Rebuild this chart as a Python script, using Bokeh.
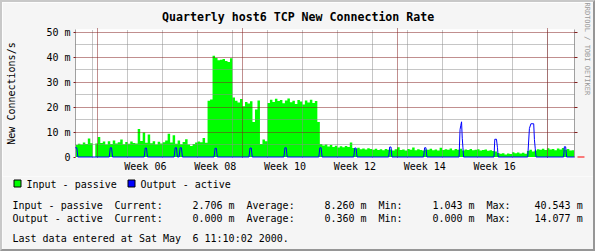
from datetime import datetime, timedelta
import numpy as np
from bokeh.plotting import figure
from bokeh.layouts import column
from bokeh.models import (Range1d, FixedTicker, LinearAxis, Grid, Title,
                          Arrow, NormalHead, ColumnDataSource)
from bokeh.core.properties import value
from bokeh.embed import file_html
from bokeh.resources import INLINE

# ---------------- data ----------------
TITLE = "Quarterly host6 TCP New Connection Rate"
Y_LABEL = "New Connections/s"
END = datetime(2000, 5, 6, 11, 10, 2)
SPAN_DAYS = 100
START = END - timedelta(days=SPAN_DAYS)
SAMPLE_DAYS = 0.5   # one sample every 12 hours

# Input - passive (milli connections / s), one value per 12 h
input_passive = [
    4.8, 5.3, 5.0, 5.8, 5.2, 7.4, 5.5, 0.0,
    5.4, 8.0, 5.6, 6.2, 5.0, 6.3, 5.2, 6.6, 5.4, 5.9, 7.0, 5.1, 6.0, 5.3, 6.2, 5.6, 5.4,
    11.2, 6.4, 9.8, 5.7, 9.0, 5.5, 6.3, 5.0, 6.1, 5.4, 5.9, 6.6, 9.3, 5.8, 8.7, 5.3, 6.6,
    5.1, 6.0, 7.1, 5.0, 4.4, 5.2, 5.8, 6.2, 5.9, 7.6, 5.7,
    22.5, 23.0, 40.5, 39.6, 38.7, 38.9, 39.2, 38.4, 38.0, 39.5,
    23.8, 22.5, 21.8, 23.2, 20.3, 22.0, 21.4, 22.3, 14.0, 19.0, 22.6, 5.2, 7.0, 6.3,
    21.6, 22.9, 22.0, 23.3, 22.4, 22.8, 21.5, 22.6, 23.4, 21.9, 22.5, 21.2, 22.8, 22.2,
    21.0, 22.6, 21.8, 22.9, 21.6, 22.4, 14.0,
    5.2, 4.6, 5.0, 4.2, 4.8, 4.0, 4.5, 3.8, 4.3, 3.9, 4.4, 4.0,
    5.8, 3.6, 3.3, 3.7, 3.1, 3.4, 3.0, 3.5, 3.2, 2.9, 3.3, 2.8,
    3.1, 2.7, 3.2, 2.9, 3.0, 2.6, 3.1, 3.9, 2.8, 3.0, 2.6, 3.2,
    2.9, 3.8, 2.7, 3.1, 2.8, 2.6, 3.0, 2.9, 3.3, 2.7, 3.0, 2.6,
    3.7, 2.8, 3.1, 2.9, 3.4, 2.7, 3.2, 2.9, 3.3, 2.6, 3.0, 2.8,
    3.2, 2.7, 2.9, 3.1, 2.6, 2.8, 3.0, 2.5, 2.7, 2.4, 2.2, 1.6,
    1.3, 1.5, 1.04, 1.4, 1.2, 1.9, 1.5, 1.8, 1.4, 1.7, 1.3, 2.4,
    2.9, 2.2, 2.6, 3.1, 2.9, 3.3, 2.8, 3.5, 3.0, 3.2, 2.7, 3.4,
    3.0, 3.6, 2.9, 3.2, 2.6, 2.7,
]

# Output - active: sample times (days since START) and values (milli / s)
output_days = [
    0.0, 0.3, 0.5,
    6.80, 7.00, 7.26, 7.46,
    13.80, 14.00, 14.26, 14.46,
    19.80, 20.00, 20.26, 20.46,
    20.80, 21.00, 21.26, 21.46,
    27.80, 28.00, 28.26, 28.46,
    34.80, 35.00, 35.26, 35.46,
    41.80, 42.00, 42.26, 42.46,
    48.80, 49.00, 49.26, 49.46,
    55.80, 56.00, 56.26, 56.46,
    62.80, 63.00, 63.26, 63.46,
    69.80, 70.00, 70.26, 70.46,
    76.90, 77.10, 77.26, 77.40, 77.54, 77.68, 77.80,
    83.90, 84.06, 84.40, 84.60, 84.74,
    90.66, 91.00, 91.30, 91.86, 92.00, 92.16, 92.34,
    97.86, 98.00, 98.26, 98.46,
    100.0,
]
output_active = [
    3.7, 3.7, 0.0,
    0.0, 3.7, 3.7, 0.0,
    0.0, 3.6, 3.6, 0.0,
    0.0, 3.7, 3.7, 0.0,
    0.0, 3.7, 3.7, 0.0,
    0.0, 3.5, 3.5, 0.0,
    0.0, 3.6, 3.6, 0.0,
    0.0, 3.7, 3.7, 0.0,
    0.0, 3.7, 3.7, 0.0,
    0.0, 3.6, 3.6, 0.0,
    0.0, 4.0, 4.0, 0.0,
    0.0, 3.7, 3.7, 0.0,
    0.0, 11.0, 12.7, 14.08, 7.5, 3.7, 0.0,
    0.0, 7.1, 7.1, 3.7, 0.0,
    0.0, 11.4, 13.3, 13.3, 7.0, 3.5, 0.0,
    0.0, 4.1, 4.1, 0.0,
    0.0,
]

y_major = [0, 10, 20, 30, 40, 50]
y_major_labels = ["0", "10 m", "20 m", "30 m", "40 m", "50 m"]
y_minor = [5, 15, 25, 35, 45]
week_label_numbers = [6, 8, 10, 12, 14, 16]
week_labels = ["Week 06", "Week 08", "Week 10", "Week 12", "Week 14", "Week 16"]

legend_names = ["Input - passive", "Output - active"]
legend_colors = ["#00ff00", "#0000ff"]
stat_current = ["2.706 m", "0.000 m"]
stat_average = ["8.260 m", "0.360 m"]
stat_min = ["1.043 m", "0.000 m"]
stat_max = ["40.543 m", "14.077 m"]
last_update = ["Last data entered at Sat May", "6 11:10:02 2000."]
watermark = "RRDTOOL / TOBI OETIKER"

# ---------------- time helpers ----------------
def day_of(dt):
    return (dt - START).total_seconds() / 86400.0

mondays = []
d = datetime(2000, 1, 24)
while d < END:
    if d > START:
        mondays.append(d)
    d += timedelta(days=7)
week_lines = [day_of(m) for m in mondays]
month_lines = [day_of(datetime(2000, m, 1)) for m in (2, 3, 4, 5)]
week_centers = [day_of(datetime.fromisocalendar(2000, wk, 1)) + 3.5
                for wk in week_label_numbers]

# ---------------- styling ----------------
W, H = 595, 251
BW = 2                      # 3D border width
IW = W - 2 * BW             # inner width 591
HA = 174                    # chart figure height (canvas rows 2..176)
HB = H - 2 * BW - HA        # text figure height (canvas rows 176..249)
FL, FR, FT, FB = 75, 575, 29, 157   # frame edges in canvas px
PX_PER_DAY = 5.0
PX_PER_M = 2.5
BACK = "#f5f5f5"
MGRID = "#821e1e"
GRID = "#8c8c8c"
AXIS = "#a0a0a0"
FONT = "DejaVu Sans Mono"
CHAR = 6.0

def no_frame_align(fig):
    if "frame_align" in fig.properties():
        fig.frame_align = False

# align month grid line to a pixel centre (canvas column 97)
x0 = month_lines[0] - (97.5 - FL) / PX_PER_DAY
y0 = -0.5 / PX_PER_M
p = figure(width=IW, height=HA, output_backend="svg", toolbar_location=None,
           x_range=Range1d(x0, x0 + (FR - FL) / PX_PER_DAY),
           y_range=Range1d(y0, y0 + (FB - FT) / PX_PER_M),
           min_border_left=FL - BW, min_border_right=(W - BW) - FR,
           min_border_top=FT - BW, min_border_bottom=(BW + HA) - FB,
           x_axis_type=None, y_axis_type=None)
no_frame_align(p)
p.background_fill_color = "white"
p.border_fill_color = BACK
p.outline_line_color = None
p.xgrid.visible = False
p.ygrid.visible = False

p.title.text = TITLE
p.title.text_font = FONT
p.title.text_font_style = "bold"
p.title.text_font_size = "11.6px"
p.title.text_color = "black"
p.title.align = "left"
p.title.offset = 161.5 - FL
p.title.standoff = 9

# data glyphs
x_edges = list(np.arange(len(input_passive) + 1) * SAMPLE_DAYS)
src = ColumnDataSource(dict(x=x_edges, y1=[0.0] * len(x_edges),
                            y2=input_passive + [input_passive[-1]]))
p.varea_step(x="x", y1="y1", y2="y2", step_mode="after", source=src,
             fill_color="#00ff00")

def add_grid(dim, ticks, color):
    p.add_layout(Grid(dimension=dim, ticker=FixedTicker(ticks=ticks),
                      grid_line_color=color, grid_line_dash="1 1",
                      grid_line_width=1, level="guide"))

add_grid(0, week_lines, GRID)
add_grid(1, y_minor, GRID)
add_grid(0, month_lines, MGRID)
add_grid(1, y_major[1:], MGRID)

out = p.line(output_days, output_active, line_color="#0000ff", line_width=1)
out.level = "annotation"

# axes
left = LinearAxis(ticker=FixedTicker(ticks=y_major),
                  major_label_overrides={t: l for t, l in zip(y_major, y_major_labels)},
                  axis_line_color=AXIS, major_tick_line_color=MGRID,
                  major_tick_out=2, major_tick_in=0, minor_tick_line_color=None,
                  major_label_standoff=3, major_label_text_font=FONT,
                  major_label_text_font_size="10px", major_label_text_color="black",
                  axis_label=Y_LABEL, axis_label_text_font=FONT,
                  axis_label_text_font_size="10px", axis_label_text_font_style="normal",
                  axis_label_standoff=26, axis_label_text_color="black")
p.add_layout(left, "left")

right = LinearAxis(ticker=FixedTicker(ticks=[], minor_ticks=y_major[1:]),
                   axis_line_color=AXIS, major_tick_line_color=None,
                   major_tick_out=0, major_tick_in=0,
                   minor_tick_line_color=MGRID, minor_tick_out=3, minor_tick_in=0,
                   major_label_standoff=0)
p.add_layout(right, "right")

p.add_layout(Title(text=watermark, align="left", offset=-27, standoff=6,
                   vertical_align="top",
                   text_font=FONT, text_font_size="7px", text_font_style="normal",
                   text_color="#999999"), "right")

# month ticks just above the frame (also keeps the title clear of the frame)
top_axis = LinearAxis(ticker=FixedTicker(ticks=[], minor_ticks=month_lines),
                      axis_line_color=None, major_tick_line_color=None,
                      major_tick_out=3, major_tick_in=0,
                      minor_tick_line_color=MGRID, minor_tick_out=1, minor_tick_in=0,
                      major_label_standoff=0)
p.add_layout(top_axis, "above")

bottom = LinearAxis(ticker=FixedTicker(ticks=week_centers),
                    major_label_overrides={c: l for c, l in zip(week_centers, week_labels)},
                    axis_line_color=None, major_tick_line_color=None,
                    major_tick_out=0, major_tick_in=0, minor_tick_line_color=None,
                    major_label_standoff=3, major_label_text_font=FONT,
                    major_label_text_font_size="10px", major_label_text_color="black")
p.add_layout(bottom, "below")

x_end = p.x_range.end
p.add_layout(Arrow(x_start=x_end, y_start=0, x_end=x_end + 10 / PX_PER_DAY, y_end=0,
                   line_color="#ff0000", line_width=1,
                   end=NormalHead(size=7, fill_color=BACK, line_color="#ff0000",
                                  line_width=1)))

# ---------------- legend / statistics figure ----------------
top_b = BW + HA
q = figure(width=IW, height=HB, output_backend="svg", toolbar_location=None,
           x_range=Range1d(BW, W - BW), y_range=Range1d(top_b + HB, top_b),
           min_border=0, min_border_left=0, min_border_right=0,
           min_border_top=0, min_border_bottom=0,
           x_axis_type=None, y_axis_type=None)
no_frame_align(q)
q.background_fill_color = BACK
q.border_fill_color = BACK
q.outline_line_color = None
q.xgrid.visible = False
q.ygrid.visible = False

box_x = [13, 127]
text_x = [26, 140]
q.quad(left=[b + 0.5 for b in box_x], right=[b + 7.5 for b in box_x],
       top=[179.5] * 2, bottom=[186.5] * 2, fill_color=legend_colors,
       line_color="black", line_width=1)

cols = [0, 17, 30, 39, 52, 61, 70, 79, 87]
tx, ty, tt = [], [], []
for bx, name in zip(text_x, legend_names):
    tx.append(bx); ty.append(183.5); tt.append(name)
rows_y = [204.5, 217.5]
for r in range(2):
    fields = [legend_names[r], "Current:", stat_current[r], "Average:", stat_average[r],
              "Min:", stat_min[r], "Max:", stat_max[r]]
    for c, f in zip(cols, fields):
        tx.append(12 + c * CHAR); ty.append(rows_y[r]); tt.append(f)
tx += [12, 12 + 30 * CHAR]; ty += [237.5, 237.5]; tt += last_update
q.text(x=tx, y=ty, text=tt, text_font=value(FONT), text_font_size="10px",
       text_color="black", text_baseline="middle", text_align="left")

layout = column(p, q, spacing=0, styles={
    "border-top": "2px solid #c8c8c8", "border-left": "2px solid #c8c8c8",
    "border-right": "2px solid #969696", "border-bottom": "2px solid #969696"})

open("out.html", "w").write(file_html(layout, INLINE))
